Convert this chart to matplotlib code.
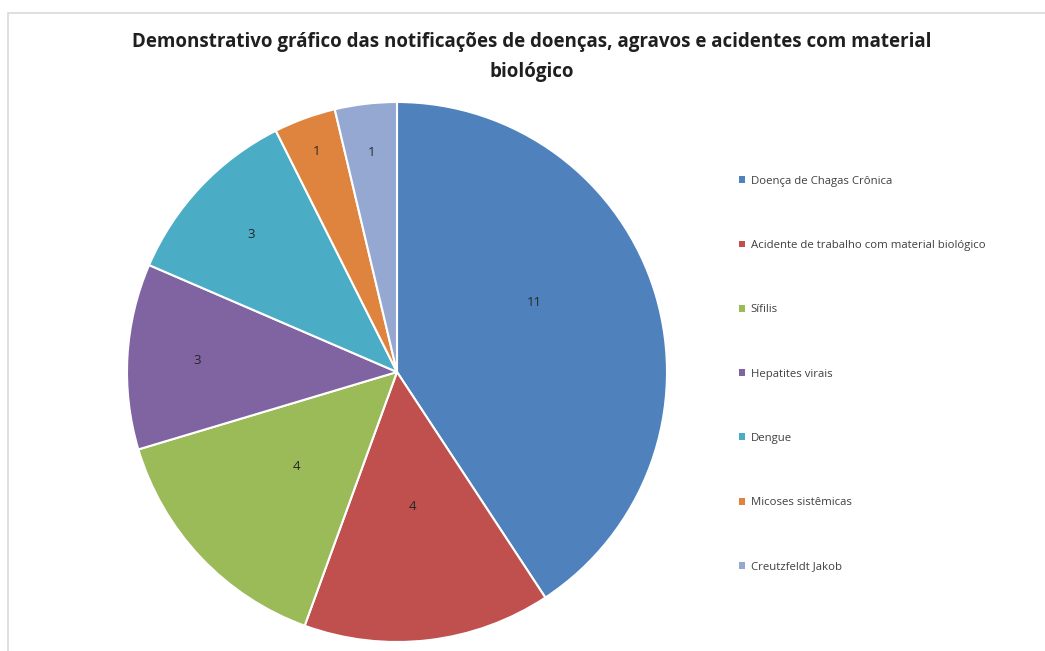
import numpy as np
import matplotlib
matplotlib.use('Agg')
import matplotlib.pyplot as plt
from matplotlib.patches import Rectangle

# data
categorias = ['Doença de Chagas Crônica', 'Acidente de trabalho com material biológico',
              'Sífilis', 'Hepatites virais', 'Dengue', 'Micoses sistêmicas', 'Creutzfeldt Jakob']
casos = [11, 4, 4, 3, 3, 1, 1]
cores = ['#4F81BD', '#C0504D', '#9BBB59', '#8064A2', '#4BACC6', '#DF843F', '#95A8D1']

# label placement (fraction of radius, angle shift in degrees), Excel "best fit" look
dist_rotulo = [0.57, 0.50, 0.51, 0.74, 0.74, 0.87, 0.82]
desvio_rotulo = [10, 0, 0, 0, 0, 0, 0]

titulo = 'Demonstrativo gráfico das notificações de doenças, agravos e acidentes com material\nbiológico'

plt.rcParams['font.family'] = ['Open Sans', 'DejaVu Sans']

fig = plt.figure(figsize=(10.45, 6.51), dpi=100)
W, H = 1045, 651

# thin chart-area border (only left/top edges are visible in the crop)
fig.patches.append(Rectangle((7.5 / W, -0.1), 1.2, (H - 12.5) / H + 0.1, transform=fig.transFigure,
                             fill=False, edgecolor='#D9D9D9', linewidth=1.2))

ax = fig.add_axes([127 / W, 9 / H, 540 / W, 540 / H])
wedges, _ = ax.pie(casos, colors=cores, startangle=90, counterclock=False, radius=1,
                   wedgeprops=dict(edgecolor='white', linewidth=1.5))
ax.set_xlim(-1, 1)
ax.set_ylim(-1, 1)
ax.set_aspect('equal')
ax.axis('off')

for w, v, d, off in zip(wedges, casos, dist_rotulo, desvio_rotulo):
    ang = np.deg2rad((w.theta1 + w.theta2) / 2 + off)
    ax.text(d * np.cos(ang), d * np.sin(ang), str(v), ha='center', va='center',
            fontsize=9.5, color='#262626')

fig.text(532 / W, 1 - 57 / H, titulo, ha='center', va='center', fontsize=13.5,
         fontweight='bold', color='#1F1F1F', linespacing=1.65)

leg = fig.legend(wedges, categorias, loc='upper left', bbox_to_anchor=(733 / W, 1 - 170 / H),
                 frameon=False, fontsize=8.2, handlelength=0.55, handleheight=0.55,
                 handletextpad=0.5, labelspacing=4.68, borderpad=0)
for t in leg.get_texts():
    t.set_color('#404040')
for h in leg.legend_handles:
    h.set_edgecolor('none')

fig.savefig('out.png', dpi=100)
